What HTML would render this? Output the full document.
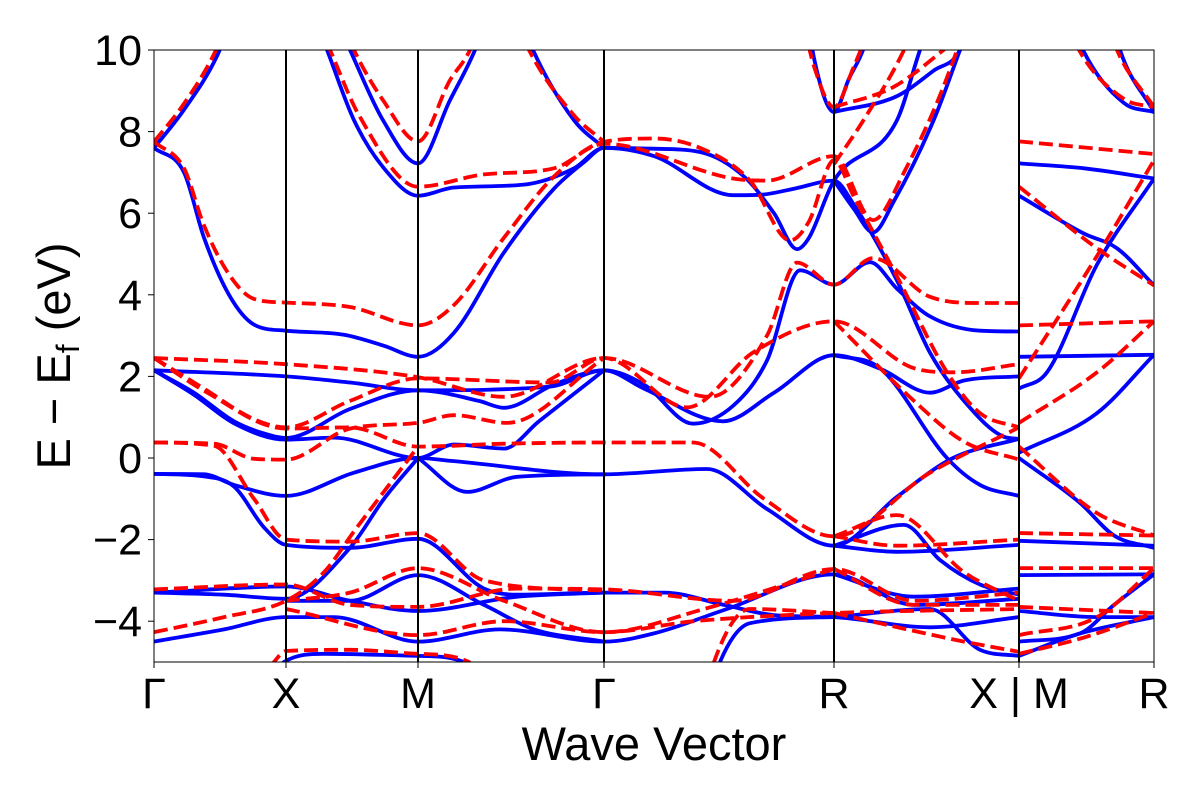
<!DOCTYPE html>
<html><head><meta charset="utf-8"><style>
html,body{margin:0;padding:0;background:#fff;}
svg{display:block;font-family:"Liberation Sans",sans-serif;}
</style></head><body>
<svg id="chart" width="1200" height="800" xmlns="http://www.w3.org/2000/svg">
<defs><clipPath id="clip"><rect x="154" y="50" width="1000" height="612"/></clipPath></defs>
<rect x="0" y="0" width="1200" height="800" fill="#fff"/>
<g id="bands" clip-path="url(#clip)"></g>
<g id="axes"></g>
</svg>
<script>
const kLabels = ["Γ","X","M","Γ","R","X | M","R"];
const kPos = [0,1.32,2.64,4.50,6.80,8.65,10.0];
const yTicks = [-4,-2,0,2,4,6,8,10];
const yTickLabels = ["−4","−2","0","2","4","6","8","10"];

const blueBands = [
[[0,7.6],[0.3,7.0],[0.5,5.4],[0.75,4.0],[1.0,3.27],[1.32,3.12],[1.9,3.02],[2.3,2.75],[2.64,2.48],[3.0,3.07],[3.5,5.04],[4.0,6.6],[4.3,7.25],[4.5,7.6],[5.0,7.58],[5.46,7.5],[5.9,6.9],[6.2,6.0],[6.43,5.12],[6.55,5.4],[6.8,6.8],[7.43,8.28],[7.66,10],[7.75,10.6]],
[[0,7.6],[0.29,8.5],[0.63,9.85],[0.75,10.6]],
[[1.85,10.6],[1.96,10],[2.29,8.28],[2.64,7.22],[2.96,8.77],[3.21,10],[3.3,10.6]],
[[1.6,10.8],[1.73,10],[2.0,8.28],[2.3,7.1],[2.64,6.43],[3.0,6.63],[3.7,6.7],[4.2,7.1],[4.5,7.6],[5.0,7.4],[5.79,6.44],[6.06,6.45],[6.4,6.6],[6.8,6.8],[7.0,6.2],[7.43,4.35],[7.76,2.58],[8.1,1.4],[8.5,0.52],[8.65,0.47]],
[[3.7,10.6],[3.79,10],[4.2,8.28],[4.5,7.6]],
[[6.8,6.8],[7.0,6.1],[7.19,5.53],[7.4,6.3],[7.8,8.3],[8.06,10],[8.15,10.6]],
[[6.55,10.6],[6.6,9.8],[6.8,8.48],[6.95,9.3],[7.09,10],[7.15,10.5]],
[[6.8,8.48],[7.43,8.87],[7.8,9.5],[8.06,10],[8.1,10.3]],
[[0,2.15],[1.32,2.0],[1.96,1.85],[2.64,1.66],[3.96,1.75],[4.5,2.15],[4.9,1.8],[5.39,0.84],[5.8,1.3],[6.13,2.39],[6.46,4.6],[6.8,4.25],[7.16,4.8],[7.43,4.15],[7.76,3.47],[8.26,3.12],[8.65,3.1]],
[[0,2.15],[0.4,1.6],[0.8,0.9],[1.1,0.6],[1.32,0.49],[1.96,1.2],[2.64,1.66],[3.25,1.4],[3.5,1.23],[4.0,1.8],[4.5,2.15],[4.9,1.7],[5.69,0.9],[6.2,1.6],[6.8,2.52],[7.26,2.19],[7.76,1.6],[8.1,1.9],[8.65,2.0]],
[[0,2.15],[0.4,1.55],[0.8,0.85],[1.32,0.45],[1.8,0.5],[2.64,0.0],[3.0,0.33],[3.5,0.23],[3.85,0.9],[4.5,2.15]],
[[6.8,2.52],[7.26,2.2],[7.93,0.0],[8.26,-0.66],[8.65,-0.93]],
[[0,-0.39],[0.5,-0.4],[0.8,-0.66],[1.32,-0.93],[2.0,-0.36],[2.64,0.0],[2.97,-0.07],[4.5,-0.4],[5.53,-0.27],[6.13,-1.25],[6.8,-2.15],[7.43,-0.95],[7.99,0.0],[8.65,0.47]],
[[0,-0.39],[0.5,-0.45],[0.8,-0.7],[1.1,-1.7],[1.32,-2.13],[1.96,-2.2],[2.64,-1.98],[3.3,-3.2],[3.63,-3.35],[4.5,-3.3],[5.1,-3.3],[5.7,-3.6],[6.2,-3.85],[6.8,-3.9],[7.76,-4.15],[8.65,-3.9]],
[[2.64,0.0],[3.13,-0.83],[3.63,-0.46],[4.5,-0.4]],
[[0,-3.3],[0.7,-3.35],[1.32,-3.45],[1.96,-2.2],[2.3,-1.0],[2.64,0.0]],
[[6.8,-2.15],[7.5,-1.64],[7.86,-2.5],[8.26,-3.1],[8.65,-3.35]],
[[6.8,-2.15],[7.43,-2.3],[8.65,-2.13]],
[[0,-3.3],[1.32,-3.15],[1.96,-3.5],[2.64,-3.75],[3.63,-3.4],[4.5,-3.3]],
[[1.32,-3.5],[1.96,-3.5],[2.64,-2.87],[3.3,-3.6],[3.8,-4.2],[4.5,-4.5]],
[[0,-4.5],[0.7,-4.2],[1.32,-3.9],[1.8,-3.9],[2.64,-4.5],[3.46,-4.2],[4.5,-4.5],[5.0,-4.3],[5.73,-3.7],[6.8,-2.85],[7.6,-3.6],[8.65,-3.45]],
[[6.8,-2.85],[7.6,-3.4],[8.65,-3.2]],
[[6.8,-3.9],[7.76,-3.7],[8.26,-4.7],[8.65,-4.85]],
[[1.15,-5.5],[1.3,-5],[1.7,-4.8],[2.64,-4.85],[3.1,-5],[3.2,-5.5]],
[[5.6,-5.5],[5.66,-5],[5.96,-4.05],[6.8,-3.9]],
[[8.65,7.22],[9.3,7.1],[10,6.85]],
[[8.65,6.43],[9.3,5.5],[9.63,5.14],[10,4.23]],
[[8.65,1.7],[8.93,2.1],[9.43,4.74],[10,6.85]],
[[8.65,2.48],[10,2.53]],
[[8.65,0.13],[9.43,1.1],[10,2.53]],
[[8.65,0.0],[9.26,-1.1],[9.6,-1.9],[10,-2.2]],
[[8.65,-2.03],[10,-2.15]],
[[8.65,-2.87],[10,-2.85]],
[[8.65,-3.75],[9.43,-3.9],[10,-3.9]],
[[8.65,-4.5],[9.26,-4.3],[9.6,-3.6],[10,-2.85]],
[[8.65,-4.85],[9.26,-4.3],[10,-3.9]],
[[9.2,10.6],[9.29,10],[9.7,8.7],[10,8.48]],
[[9.6,10.6],[9.66,10],[10,8.48]]
];

const redBands = [
[[0,7.75],[0.3,7.1],[0.5,5.7],[0.75,4.5],[1.0,3.9],[1.32,3.81],[1.96,3.7],[2.64,3.25],[3.0,3.75],[3.5,5.4],[4.0,6.9],[4.5,7.75],[5.0,7.83],[5.46,7.6],[5.96,6.8],[6.36,5.33],[6.55,5.8],[6.8,7.3],[7.0,6.4],[7.43,4.45],[7.93,2.1],[8.26,1.1],[8.65,0.75]],
[[0,7.75],[0.29,8.65],[0.6,9.9],[0.72,10.6]],
[[1.9,10.6],[2.0,10],[2.29,8.77],[2.64,7.76],[2.96,9.26],[3.16,10],[3.25,10.6]],
[[1.65,10.6],[1.76,10],[2.05,8.4],[2.64,6.65],[3.3,6.95],[4.0,7.1],[4.5,7.7],[5.79,6.85],[6.13,6.8],[6.8,7.4],[7.19,5.83],[7.5,7.0],[8.03,10],[8.1,10.6]],
[[3.65,10.6],[3.75,10],[4.2,8.4],[4.5,7.75]],
[[6.5,10.6],[6.6,9.6],[6.8,8.6],[7.0,9.6],[7.1,10.2]],
[[6.8,8.6],[7.4,9.1],[8.0,10.2]],
[[6.8,7.2],[7.1,8.3],[7.5,10],[7.6,10.6]],
[[0,2.45],[1.32,2.3],[2.64,1.98],[3.5,1.5],[4.5,2.45],[5.56,1.5],[6.13,3.0],[6.43,4.79],[6.8,4.25],[7.19,4.9],[7.76,3.95],[8.26,3.8],[8.65,3.8]],
[[0,2.45],[0.5,1.7],[1.0,0.95],[1.32,0.75],[1.96,1.4],[2.64,1.95],[3.96,1.85],[4.5,2.45],[5.33,1.24],[6.0,2.6],[6.8,3.35],[7.6,2.2],[8.0,2.1],[8.65,2.3]],
[[0,2.45],[0.5,1.65],[1.32,0.72],[1.96,0.75],[2.64,0.28],[3.5,0.35],[4.5,0.38],[5.39,0.38],[6.1,-1.0],[6.8,-1.92],[7.76,-0.36],[8.65,0.75]],
[[0,0.38],[0.6,0.35],[1.0,-0.02],[1.32,-0.04],[1.96,0.72],[2.64,0.86],[3.0,1.05],[3.53,0.86],[4.5,2.45]],
[[0,0.38],[0.6,0.3],[1.0,-1.0],[1.32,-2.0],[1.96,-2.05],[2.64,-1.84],[3.3,-3.0],[4.5,-3.25]],
[[6.8,3.35],[7.6,1.4],[8.1,0.4],[8.65,-0.04]],
[[6.8,-1.92],[7.43,-1.4],[8.1,-2.8],[8.65,-3.5]],
[[6.8,-1.92],[7.43,-2.15],[8.65,-2.0]],
[[0,-3.22],[1.32,-3.1],[1.96,-3.6],[2.64,-3.65],[3.63,-3.2],[4.5,-3.22],[5.8,-3.5],[6.8,-2.72],[7.6,-3.5],[8.65,-3.3]],
[[0,-4.27],[0.7,-3.9],[1.32,-3.5],[1.7,-2.8],[2.0,-1.8],[2.64,0.28]],
[[1.32,-3.5],[1.96,-3.3],[2.64,-2.7],[3.5,-3.5],[4.5,-4.27],[5.5,-3.7],[6.8,-2.72]],
[[1.32,-3.7],[2.64,-4.34],[3.5,-4.0],[4.5,-4.27],[5.4,-4.0],[6.8,-3.8],[8.65,-3.7]],
[[1.05,-5.5],[1.2,-5],[1.32,-4.73],[1.96,-4.7],[2.64,-4.8],[3.15,-5],[3.25,-5.5]],
[[5.55,-5.5],[5.6,-5],[5.96,-3.7],[6.8,-3.8]],
[[6.8,-3.8],[8.1,-4.5],[8.65,-4.75]],
[[6.8,-2.72],[7.6,-3.6],[8.65,-3.6]],
[[8.65,7.76],[10,7.45]],
[[8.65,6.65],[9.43,5.14],[10,4.23]],
[[8.65,1.95],[9.43,4.95],[10,7.3]],
[[8.65,3.25],[10,3.35]],
[[8.65,0.86],[9.43,2.1],[10,3.35]],
[[8.65,0.28],[9.43,-1.35],[10,-1.9]],
[[8.65,-1.84],[10,-1.9]],
[[8.65,-2.7],[10,-2.7]],
[[8.65,-3.65],[10,-3.8]],
[[8.65,-4.34],[9.43,-3.9],[10,-2.7]],
[[8.65,-4.8],[9.3,-4.4],[10,-3.8]],
[[9.15,10.6],[9.25,10],[9.7,8.8],[10,8.6]],
[[9.55,10.6],[9.63,10],[10,8.6]]
];

const X0=154, X1=1154, Y0=50, Y1=662, KMAX=10, EMIN=-5, EMAX=10;
function xS(k){return X0+(k/KMAX)*(X1-X0);}
function yS(e){return Y1-(e-EMIN)/(EMAX-EMIN)*(Y1-Y0);}
const NS="http://www.w3.org/2000/svg";
function mk(tag,attrs,parent){const el=document.createElementNS(NS,tag);for(const a in attrs)el.setAttribute(a,attrs[a]);parent.appendChild(el);return el;}

function monoPath(pts){
  const n=pts.length, xs=pts.map(p=>xS(p[0])), ys=pts.map(p=>yS(p[1]));
  if(n<3){return "M"+xs[0]+","+ys[0]+" L"+xs[1]+","+ys[1];}
  const d=[],m=[];
  for(let i=0;i<n-1;i++)d.push((ys[i+1]-ys[i])/(xs[i+1]-xs[i]));
  m[0]=d[0];m[n-1]=d[n-2];
  for(let i=1;i<n-1;i++){ if(d[i-1]*d[i]<=0)m[i]=0; else m[i]=(d[i-1]+d[i])/2; }
  for(let i=0;i<n-1;i++){ if(d[i]===0){m[i]=0;m[i+1]=0;continue;} const a=m[i]/d[i],b=m[i+1]/d[i],s=a*a+b*b; if(s>9){const t=3/Math.sqrt(s);m[i]=t*a*d[i];m[i+1]=t*b*d[i];} }
  let s="M"+xs[0].toFixed(1)+","+ys[0].toFixed(1);
  for(let i=0;i<n-1;i++){const h=(xs[i+1]-xs[i])/3;
    s+=" C"+(xs[i]+h).toFixed(1)+","+(ys[i]+m[i]*h).toFixed(1)+" "+(xs[i+1]-h).toFixed(1)+","+(ys[i+1]-m[i+1]*h).toFixed(1)+" "+xs[i+1].toFixed(1)+","+ys[i+1].toFixed(1);}
  return s;
}
const gB=document.getElementById('bands');
blueBands.forEach(function(b){
  const p=mk('path',{d:monoPath(b),fill:'none',stroke:'#0000ff','stroke-width':3.8,'stroke-linejoin':'round'},gB);
  
  
});
redBands.forEach(function(b){
  const p=mk('path',{d:monoPath(b),fill:'none',stroke:'#ff0000','stroke-width':3.8,'stroke-dasharray':'14,6'},gB);
  
  
});

const gA=document.getElementById('axes');
kPos.forEach(function(k,i){
  if(i>0&&i<kPos.length-1){
    const l=mk('line',{x1:xS(k),x2:xS(k),y1:Y0,y2:Y1,stroke:'#000','stroke-width':2},gA);
    
    
  }
  const tk=mk('line',{x1:xS(k),x2:xS(k),y1:Y1,y2:Y1+6,stroke:'#000','stroke-width':1},gA);
  
  
  const t=mk('text',{x:xS(k),y:708,'text-anchor':'middle','font-size':43,fill:'#000'},gA);
  t.textContent=kLabels[i];
  
  
});
yTicks.forEach(function(v,i){
  const tk=mk('line',{x1:X0-6,x2:X0,y1:yS(v),y2:yS(v),stroke:'#000','stroke-width':1},gA);
  
  
  const t=mk('text',{x:142,y:yS(v)+15,'text-anchor':'end','font-size':43,fill:'#000'},gA);
  t.textContent=yTickLabels[i];
  
  
});
const fr=mk('rect',{x:X0,y:Y0,width:X1-X0,height:Y1-Y0,fill:'none',stroke:'#000','stroke-width':1},gA);


const xt=mk('text',{x:654,y:760,'text-anchor':'middle','font-size':47,fill:'#000'},gA);
xt.textContent='Wave Vector';


const yt=mk('text',{x:0,y:0,'text-anchor':'middle','font-size':47,fill:'#000',transform:'translate(70,356) rotate(-90)'},gA);
yt.innerHTML='E − E<tspan font-size="32" dy="9">f</tspan><tspan dy="-9"> (eV)</tspan>';


</script>
</body></html>
